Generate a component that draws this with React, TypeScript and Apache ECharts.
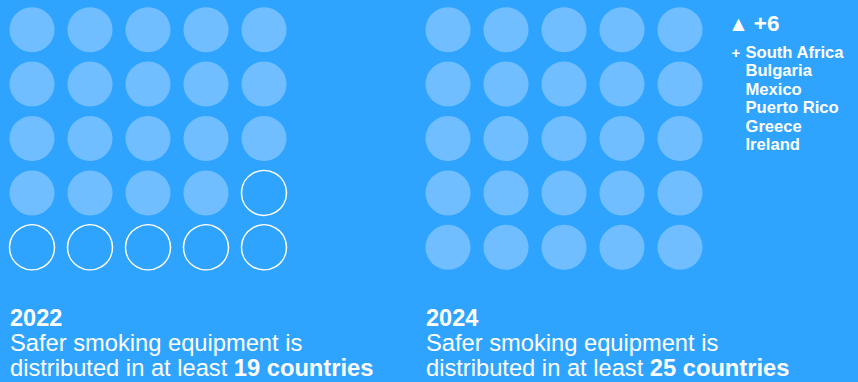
import React, { useEffect, useRef } from "react";
import * as echarts from "echarts";

const years = ["2022", "2024"];
const countryCounts = [19, 25];
const gridSize = 25;
const columns = 5;
const newCountries = ["South Africa", "Bulgaria", "Mexico", "Puerto Rico", "Greece", "Ireland"];

const BG = "#2FA4FF";
const FILL = "#70BEFF";
const FONT = "'Liberation Sans', Arial, Helvetica, sans-serif";

export default function App() {
  const ref = useRef<HTMLDivElement>(null);
  useEffect(() => {
    document.body.style.margin = "0";
    if (!ref.current) return;
    const chart = echarts.init(ref.current, undefined, { renderer: "svg" });

    const gridLefts = [3, 419];
    const grids = years.map((_, i) => ({ left: gridLefts[i], top: 2.5, width: 290, height: 272 }));
    const xAxes = years.map((_, i) => ({ type: "value", gridIndex: i, min: -0.5, max: 4.5, show: false }));
    const yAxes = years.map((_, i) => ({ type: "value", gridIndex: i, min: -0.5, max: 4.5, inverse: true, show: false }));

    const series: any[] = [];
    years.forEach((_, gi) => {
      const filled: number[][] = [];
      const empty: number[][] = [];
      for (let k = 0; k < gridSize; k++) {
        const pt = [k % columns, Math.floor(k / columns)];
        if (k < countryCounts[gi]) filled.push(pt);
        else empty.push(pt);
      }
      series.push({
        type: "scatter", xAxisIndex: gi, yAxisIndex: gi, symbolSize: 45, data: filled,
        itemStyle: { color: FILL, opacity: 1 }, silent: true,
      });
      series.push({
        type: "scatter", xAxisIndex: gi, yAxisIndex: gi, symbolSize: 45, data: empty,
        itemStyle: { color: "rgba(0,0,0,0)", borderColor: "#ffffff", borderWidth: 1.5, opacity: 1 }, silent: true,
      });
    });

    const textX = [10, 426];
    const graphic: any[] = [];
    years.forEach((y, i) => {
      graphic.push({
        type: "text", left: textX[i], top: 305.5,
        style: { text: y, fill: "#fff", font: `bold 23.5px ${FONT}` },
      });
      graphic.push({
        type: "text", left: textX[i], top: 331,
        style: { text: "Safer smoking equipment is", fill: "#fff", font: `23.7px ${FONT}` },
      });
      graphic.push({
        type: "text", left: textX[i], top: 356,
        style: {
          text: `{n|distributed in at least }{b|${countryCounts[i]} countries}`,
          fill: "#fff",
          rich: {
            n: { fontFamily: FONT, fontSize: 23.7, fill: "#fff" },
            b: { fontFamily: FONT, fontSize: 23.7, fontWeight: "bold", fill: "#fff" },
          },
        },
      });
    });

    const added = countryCounts[1] - countryCounts[0];
    graphic.push({
      type: "text", left: 728, top: 11.5,
      style: {
        text: `{t|▲}{n|+${added}}`,
        fill: "#fff",
        rich: {
          t: { fontFamily: FONT, fontSize: 21, fill: "#fff", padding: [0, 5, 0, 0] },
          n: { fontFamily: FONT, fontSize: 22.5, fontWeight: "bold", fill: "#fff" },
        },
      },
    });
    newCountries.forEach((c, i) => {
      if (i === 0) {
        graphic.push({
          type: "text", left: 731.5, top: 45,
          style: { text: "+", fill: "#fff", font: `bold 15px ${FONT}` },
        });
      }
      graphic.push({
        type: "text", left: 745.5, top: 43.5 + i * 18.5,
        style: { text: c, fill: "#fff", font: `bold 16.6px ${FONT}` },
      });
    });

    chart.setOption({
      animation: false,
      backgroundColor: BG,
      grid: grids,
      xAxis: xAxes,
      yAxis: yAxes,
      series,
      graphic,
    });
    return () => chart.dispose();
  }, []);
  return <div ref={ref} style={{ width: 858, height: 382, background: BG }} />;
}
